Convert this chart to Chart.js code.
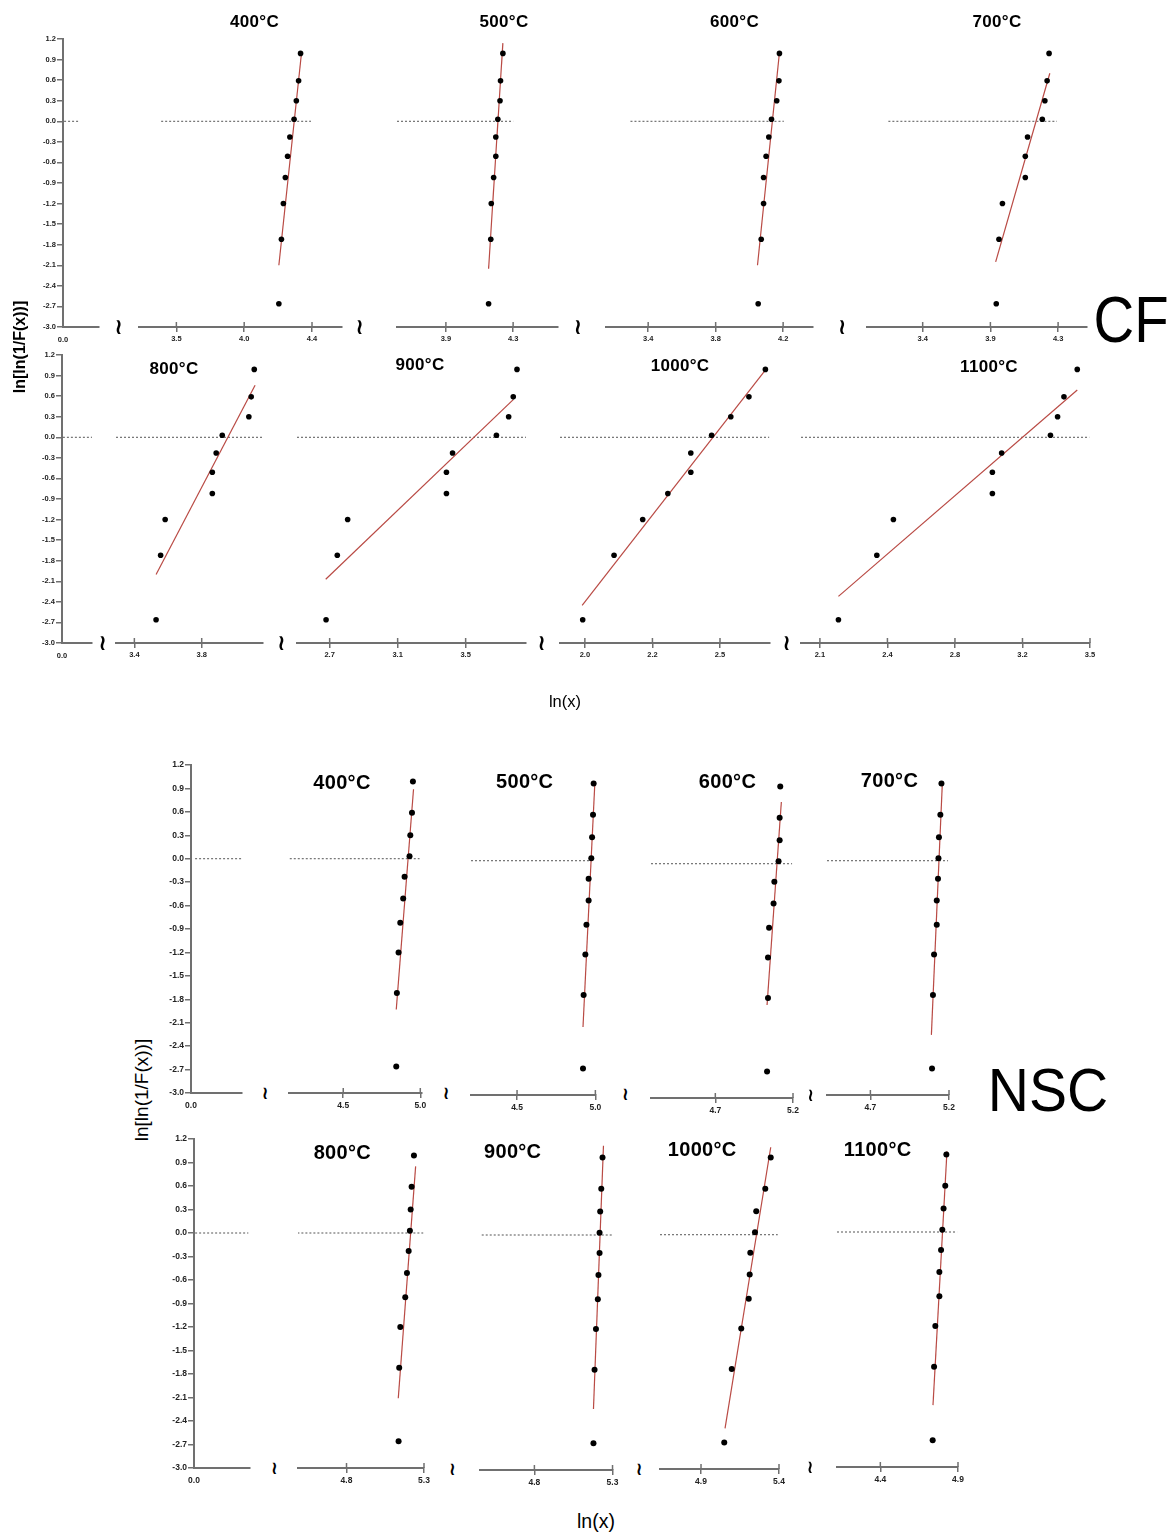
<!DOCTYPE html>
<html>
<head>
<meta charset="utf-8">
<script src="https://cdn.jsdelivr.net/npm/chart.js@4.4.1/dist/chart.umd.min.js"></script>
<style>
body { margin: 0; background: #fff; }
#page { position: relative; width: 1171px; height: 1534px; overflow: hidden; font-family: "Liberation Sans", Arial, sans-serif; }
#page canvas { position: absolute; }
.lbl { position: absolute; white-space: nowrap; line-height: 1; color: #000; transform: translate(-50%, -50%); }
.ttl { font-weight: bold; letter-spacing: 0.3px; }
.brk { font-family: "DejaVu Sans", sans-serif; font-weight: bold; }
</style>
</head>
<body>
<div id="page"></div>
<script>
// ln[ln(1/F(x))] (same ten ranks in every panel)
const weibullY = [-2.66, -1.72, -1.20, -0.82, -0.51, -0.23, 0.03, 0.30, 0.59, 0.99];
const yTickValues = [1.2, 0.9, 0.6, 0.3, 0.0, -0.3, -0.6, -0.9, -1.2, -1.5, -1.8, -2.1, -2.4, -2.7, -3.0];
const temps = ['400°C', '500°C', '600°C', '700°C', '800°C', '900°C', '1000°C', '1100°C'];

// CF: ln(x) of each point, lowest rank first
const cf400 = [4.180, 4.197, 4.210, 4.223, 4.238, 4.253, 4.281, 4.296, 4.311, 4.324];
const cf500 = [4.154, 4.167, 4.170, 4.184, 4.197, 4.197, 4.209, 4.222, 4.225, 4.239];
const cf600 = [4.052, 4.070, 4.084, 4.084, 4.099, 4.115, 4.131, 4.162, 4.175, 4.178];
const cf700 = [3.889, 3.907, 3.930, 4.082, 4.082, 4.097, 4.195, 4.212, 4.227, 4.240];
const cf800 = [3.529, 3.556, 3.583, 3.863, 3.863, 3.886, 3.922, 4.080, 4.094, 4.112];
const cf900 = [2.679, 2.745, 2.806, 3.387, 3.387, 3.423, 3.681, 3.753, 3.780, 3.802];
const cf1000 = [1.992, 2.108, 2.214, 2.307, 2.392, 2.392, 2.469, 2.540, 2.607, 2.668];
const cf1100 = [2.196, 2.395, 2.481, 2.994, 2.994, 3.042, 3.295, 3.332, 3.365, 3.434];

// NSC
const nsc400 = [4.844, 4.848, 4.859, 4.870, 4.889, 4.898, 4.930, 4.935, 4.946, 4.952];
const nsc500 = [4.921, 4.925, 4.936, 4.943, 4.957, 4.957, 4.974, 4.979, 4.985, 4.989];
const nsc600 = [5.033, 5.039, 5.039, 5.046, 5.075, 5.080, 5.107, 5.114, 5.114, 5.118];
const nsc700 = [5.092, 5.098, 5.105, 5.122, 5.122, 5.130, 5.133, 5.136, 5.145, 5.152];
const nsc800 = [5.136, 5.140, 5.147, 5.179, 5.190, 5.201, 5.209, 5.214, 5.220, 5.235];
const nsc900 = [5.178, 5.185, 5.194, 5.206, 5.210, 5.217, 5.217, 5.221, 5.228, 5.236];
const nsc1000 = [5.049, 5.097, 5.158, 5.206, 5.212, 5.216, 5.246, 5.254, 5.312, 5.347];
const nsc1100 = [4.737, 4.746, 4.754, 4.780, 4.780, 4.791, 4.799, 4.807, 4.818, 4.825];

// fitted lines: [x1, y1, x2, y2]
const cfFits = [
    [4.180, -2.10, 4.329, 0.97], [4.154, -2.15, 4.239, 1.14], [4.048, -2.10, 4.178, 1.00], [3.885, -2.05, 4.245, 0.70],
    [3.529, -2.00, 4.117, 0.76], [2.677, -2.07, 3.780, 0.55], [1.990, -2.45, 2.672, 1.00], [2.196, -2.32, 3.434, 0.69]
];
const nscFits = [
    [4.844, -1.93, 4.956, 0.89], [4.921, -2.13, 4.996, 0.97], [5.033, -1.81, 5.125, 0.79], [5.088, -2.23, 5.158, 1.01],
    [5.134, -2.11, 5.246, 0.85], [5.178, -2.22, 5.242, 1.14], [5.054, -2.48, 5.347, 1.12], [4.739, -2.21, 4.829, 1.03]
];

// x axes (broken axis segments)
const cfTicks = [[3.5, 3.95, 4.4], [3.9, 4.3], [3.4, 3.8, 4.2], [3.4, 3.85, 4.3], [3.4, 3.8], [2.7, 3.1, 3.5], [2.0, 2.25, 2.5], [2.1, 2.45, 2.8, 3.15, 3.5]];
const cfTickLabels = [['3.5', '4.0', '4.4'], ['3.9', '4.3'], ['3.4', '3.8', '4.2'], ['3.4', '3.9', '4.3'], ['3.4', '3.8'], ['2.7', '3.1', '3.5'], ['2.0', '2.2', '2.5'], ['2.1', '2.4', '2.8', '3.2', '3.5']];
const cfRanges = [[3.252, 4.599], [3.609, 4.567], [3.150, 4.377], [3.030, 4.492], [3.291, 4.164], [2.508, 3.855], [1.908, 2.685], [2.002, 3.5]];
const cfZero = [[3.399, 4.393], [3.609, 4.30], [3.295, 4.204], [3.172, 4.292], [3.291, 4.164], [2.508, 3.855], [1.908, 2.682], [2.002, 3.496]];
const nscTicks = [[4.5, 5.0], [4.5, 5.0], [4.7, 5.2], [4.7, 5.2], [4.8, 5.3], [4.8, 5.3], [4.9, 5.4], [4.4, 4.9]];
const nscTickLabels = [['4.5', '5.0'], ['4.5', '5.0'], ['4.7', '5.2'], ['4.7', '5.2'], ['4.8', '5.3'], ['4.8', '5.3'], ['4.9', '5.4'], ['4.4', '4.9']];
const nscRanges = [[4.148, 5.011], [4.206, 5.004], [4.286, 5.2], [4.424, 5.2], [4.487, 5.3], [4.452, 5.303], [4.637, 5.4], [4.121, 4.9]];
const nscZero = [[4.153, 4.995], [4.206, 4.968], [4.286, 5.194], [4.424, 5.194], [4.483, 5.295], [4.463, 5.296], [4.637, 5.392], [4.121, 4.894]];

// page layout: plot boxes [left, right, y of 1.2, y of -3.0]
const cfBoxes = [[138.5, 342, 39, 327], [397, 557.6, 39, 327], [605.6, 812.6, 39, 327], [866.5, 1087, 39, 327],
    [115.6, 263.3, 355, 643], [297.4, 525.5, 355, 643], [559.5, 770.3, 355, 643], [800.9, 1089.6, 355, 643]];
const nscBoxes = [[289.3, 421.7, 765, 1093], [470.7, 595.7, 767, 1095], [650.7, 792.7, 770, 1098], [827.3, 949.3, 767, 1095],
    [298.3, 424, 1139, 1468], [480, 612.7, 1141, 1470], [660, 779, 1141, 1469], [836.7, 957.7, 1138, 1467]];
const stubBoxes = [[63, 99, 39, 327, 0.03, 0.45], [62, 92, 355, 643, 0.03, 1.0], [191, 242, 765, 1093, 0.08, 1.0], [194, 250, 1139, 1468, 0.02, 0.97]];
const cfTitlePos = [[254.5, 21], [504, 21], [734.5, 21], [997, 21], [174, 368], [420, 364], [680, 365], [989, 366]];
const nscTitlePos = [[342, 782], [524.7, 781], [727.5, 781], [889.5, 780], [342.3, 1152], [512.7, 1151], [702.2, 1149], [877.7, 1149]];
const breakPos = [[118.6, 327], [359.7, 327], [577.9, 327], [842, 327], [102.6, 643], [281.3, 643], [541.5, 643], [786.6, 643]];
const nscBreakPos = [[265, 1093], [446, 1093], [625.3, 1094], [810.7, 1095], [274.3, 1468], [452.3, 1469], [639.2, 1469], [810, 1467]];

const page = document.getElementById('page');
Chart.defaults.font.family = '"Liberation Sans", Arial, sans-serif';
const AXIS_GREY = '#707070';
const AXIS_H = 22, PAD = 14, PAD_T = 10, YW = 34;

// tick marks that cross the axis line (Chart.js only draws them outward)
const crossTicks = {
    id: 'crossTicks',
    afterDraw(chart, args, opts) {
        if (!opts.on) return;
        const sx = chart.scales.x, ctx = chart.ctx, b = chart.chartArea.bottom;
        ctx.save();
        ctx.strokeStyle = AXIS_GREY;
        ctx.lineWidth = 1.5;
        sx.ticks.forEach(t => {
            const px = sx.getPixelForValue(t.value);
            ctx.beginPath();
            ctx.moveTo(px, b - 5);
            ctx.lineTo(px, b);
            ctx.stroke();
        });
        ctx.restore();
    }
};

function addLabel(text, x, y, css, cls) {
    const d = document.createElement('div');
    d.className = 'lbl ' + (cls || '');
    d.textContent = text;
    d.style.left = x + 'px';
    d.style.top = y + 'px';
    Object.assign(d.style, css || {});
    page.appendChild(d);
}

function panel(p) {
    const l = Math.round(p.box[0]), r = Math.round(p.box[1]);
    const t = Math.round(p.box[2]), b = Math.round(p.box[3]);
    const leftSpace = p.stub ? YW : PAD;
    const cv = document.createElement('canvas');
    cv.width = (r - l) + leftSpace + PAD;
    cv.height = (b - t) + PAD_T + AXIS_H;
    cv.style.left = (l - leftSpace) + 'px';
    cv.style.top = (t - PAD_T) + 'px';
    page.appendChild(cv);

    const datasets = [];
    if (p.xs) {
        datasets.push({
            data: p.xs.map((x, i) => ({ x: x, y: weibullY[i] })),
            pointRadius: p.dot, backgroundColor: '#000', borderWidth: 0, order: 0, clip: false
        });
    }
    if (p.fit) {
        datasets.push({
            data: [{ x: p.fit[0], y: p.fit[1] }, { x: p.fit[2], y: p.fit[3] }],
            showLine: true, borderColor: '#b94a44', borderWidth: 1.2, pointRadius: 0, order: 1, clip: false
        });
    }
    datasets.push({
        data: [{ x: p.zero[0], y: 0 }, { x: p.zero[1], y: 0 }],
        showLine: true, borderColor: '#555', borderWidth: 1, borderDash: [2, 2], pointRadius: 0, order: 2
    });

    const yScale = {
        display: !!p.stub, min: -3, max: 1.2,
        afterBuildTicks: s => { s.ticks = yTickValues.map(v => ({ value: v })); },
        ticks: {
            autoSkip: false, color: '#222', padding: 1,
            font: { size: p.fs, weight: 'bold' },
            callback: v => v.toFixed(1)
        },
        grid: { drawOnChartArea: false, tickLength: 6, color: AXIS_GREY, lineWidth: 1.5 },
        border: { color: AXIS_GREY, width: 2 }
    };
    if (p.stub) yScale.afterFit = s => { s.width = YW; };

    new Chart(cv, {
        type: 'scatter',
        data: { datasets: datasets },
        options: {
            responsive: false,
            animation: false,
            devicePixelRatio: 1,
            layout: { padding: { left: p.stub ? 0 : PAD, right: PAD, top: PAD_T, bottom: 0 } },
            plugins: { legend: { display: false }, tooltip: { enabled: false }, crossTicks: { on: !p.stub } },
            scales: {
                x: {
                    type: 'linear', min: p.range[0], max: p.range[1],
                    afterFit: s => { s.height = AXIS_H; },
                    afterBuildTicks: s => { s.ticks = p.ticks.map(v => ({ value: v })); },
                    ticks: {
                        autoSkip: false, maxRotation: 0, color: '#222',
                        padding: p.stub ? 8 : p.tickPad,
                        font: { size: p.fs, weight: 'bold' },
                        callback: (v, i) => p.labels[i]
                    },
                    grid: { drawOnChartArea: false, drawTicks: !p.stub, tickLength: 5, color: AXIS_GREY, lineWidth: 1.5 },
                    border: { color: AXIS_GREY, width: 2 }
                },
                y: yScale
            }
        },
        plugins: [crossTicks]
    });
}

// left stubs carrying the y axis
stubBoxes.forEach((s, i) => {
    const isCF = i < 2;
    panel({
        stub: true, box: s, range: [0, 1], ticks: [0], labels: ['0.0'], zero: [s[4], s[5]],
        fs: isCF ? 7.5 : 8.5
    });
});

const cfSeries = [cf400, cf500, cf600, cf700, cf800, cf900, cf1000, cf1100];
const nscSeries = [nsc400, nsc500, nsc600, nsc700, nsc800, nsc900, nsc1000, nsc1100];

cfSeries.forEach((xs, i) => {
    panel({
        box: cfBoxes[i], range: cfRanges[i], ticks: cfTicks[i], labels: cfTickLabels[i],
        zero: cfZero[i], xs: xs, fit: cfFits[i], fs: 7.5, tickPad: 2, dot: 2.8
    });
    addLabel(temps[i], cfTitlePos[i][0], cfTitlePos[i][1], { fontSize: '17px' }, 'ttl');
    addLabel('\u2240', breakPos[i][0], breakPos[i][1], { fontSize: '22px' }, 'brk');
});

nscSeries.forEach((xs, i) => {
    panel({
        box: nscBoxes[i], range: nscRanges[i], ticks: nscTicks[i], labels: nscTickLabels[i],
        zero: nscZero[i], xs: xs, fit: nscFits[i], fs: 8.5, tickPad: 3, dot: 3
    });
    addLabel(temps[i], nscTitlePos[i][0], nscTitlePos[i][1], { fontSize: '20px' }, 'ttl');
    addLabel('\u2240', nscBreakPos[i][0], nscBreakPos[i][1], { fontSize: '18px' }, 'brk');
});

// axis titles and group labels
addLabel('ln[ln(1/F(x))]', 20, 347, { fontSize: '16px', fontWeight: 'bold', transform: 'translate(-50%,-50%) rotate(-90deg)' });
addLabel('ln(x)', 565, 701, { fontSize: '16.5px' });
addLabel('CF', 1131, 320, { fontSize: '64px', transform: 'translate(-50%,-50%) scaleX(0.88)' });
addLabel('ln[ln(1/F(x))]', 141, 1090, { fontSize: '19px', transform: 'translate(-50%,-50%) rotate(-90deg)' });
addLabel('ln(x)', 596, 1522, { fontSize: '19.5px' });
addLabel('NSC', 1048, 1090, { fontSize: '62px', transform: 'translate(-50%,-50%) scaleX(0.92)' });
</script>
</body>
</html>
